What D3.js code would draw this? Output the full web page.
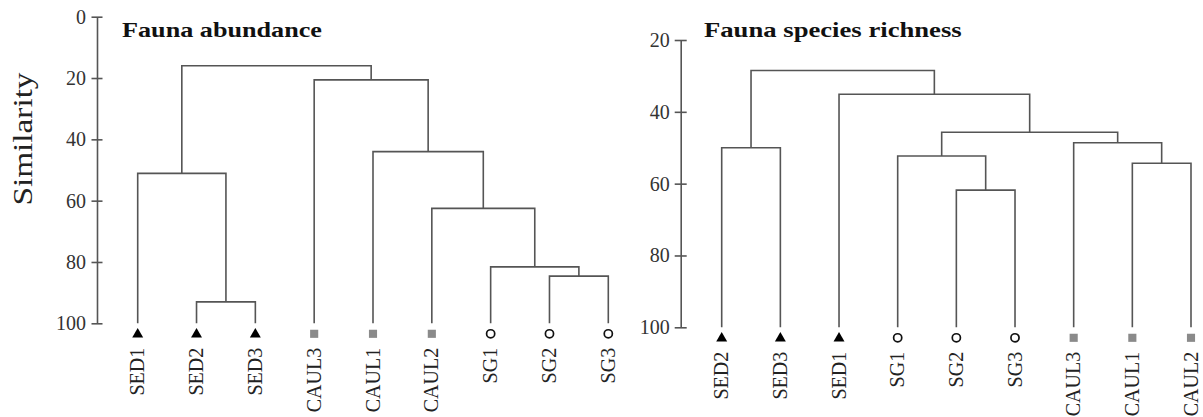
<!DOCTYPE html>
<html>
<head>
<meta charset="utf-8">
<script src="https://cdn.jsdelivr.net/npm/d3@7"></script>
<style>
  html, body { margin: 0; padding: 0; background: #fff; }
  svg { display: block; }
  text { font-family: "Liberation Serif", "Times New Roman", serif; }
</style>
</head>
<body>
<svg id="chart" width="1203" height="417"></svg>
<script>
// ---- Fauna abundance dendrogram ----
const abundanceLeaves = ["SED1", "SED2", "SED3", "CAUL3", "CAUL1", "CAUL2", "SG1", "SG2", "SG3"];
// merge steps: negative = leaf (1-based), positive = earlier merge step (1-based)
const abundancePairs = [[-2, -3], [-8, -9], [-7, 2], [-1, 1], [-6, 3], [-5, 5], [-4, 6], [4, 7]];
const abundanceSimilarity = [93.0, 84.6, 81.6, 51.1, 62.5, 44.0, 20.6, 16.0];
const abundanceTicks = [0, 20, 40, 60, 80, 100];

// ---- Fauna species richness dendrogram ----
const richnessLeaves = ["SED2", "SED3", "SED1", "SG1", "SG2", "SG3", "CAUL3", "CAUL1", "CAUL2"];
const richnessPairs = [[-1, -2], [-5, -6], [-8, -9], [-4, 2], [-7, 3], [4, 5], [-3, 6], [1, 7]];
const richnessSimilarity = [50.0, 61.8, 54.3, 52.3, 48.6, 45.7, 35.1, 28.5];
const richnessTicks = [20, 40, 60, 80, 100];

const svg = d3.select("#chart");
const lineColor = "#555";

function drawDendrogram(cfg) {
  const g = svg.append("g");
  const x = d3.scalePoint().domain(cfg.leaves).range(cfg.xRange);
  const y = d3.scaleLinear().domain(cfg.yDomain).range(cfg.yRange);

  // axis with ticks crossing the line
  const axis = d3.axisLeft(y).tickValues(cfg.ticks).tickSizeInner(cfg.tick).tickSizeOuter(0).tickPadding(cfg.pad);
  const ag = g.append("g").attr("transform", `translate(${cfg.axisX},0)`).call(axis);
  ag.select(".domain").attr("stroke", lineColor).attr("stroke-width", 1.6);
  ag.selectAll(".tick line").attr("stroke", lineColor).attr("stroke-width", 1.6).attr("x2", cfg.tick).attr("x1", -cfg.tick);
  ag.selectAll(".tick text").attr("fill", "#333").attr("font-size", 20).attr("font-family", "Liberation Serif");

  // node positions: leaves at similarity 100, merges at their similarity
  const nodeX = i => i < 0 ? x(cfg.leaves[-i - 1]) : mergeX[i - 1];
  const nodeSim = i => i < 0 ? 100 : cfg.sims[i - 1];
  const mergeX = [];
  cfg.pairs.forEach((p, k) => {
    const xa = nodeX(p[0]), xb = nodeX(p[1]);
    mergeX.push((xa + xb) / 2);
    const s = cfg.sims[k];
    const path = d3.path();
    path.moveTo(xa, y(nodeSim(p[0])));
    path.lineTo(xa, y(s));
    path.lineTo(xb, y(s));
    path.lineTo(xb, y(nodeSim(p[1])));
    g.append("path").attr("d", path.toString())
      .attr("fill", "none").attr("stroke", lineColor).attr("stroke-width", 1.6);
  });

  // group markers under the leaves
  const y100 = y(100);
  cfg.leaves.forEach(name => {
    const cx = x(name);
    if (name.startsWith("SED")) {
      g.append("path").attr("d", d3.symbol(d3.symbolTriangle, 52)())
        .attr("transform", `translate(${cx},${y100 + 11})`).attr("fill", "#000");
    } else if (name.startsWith("CAUL")) {
      g.append("path").attr("d", d3.symbol(d3.symbolSquare, 66)())
        .attr("transform", `translate(${cx},${y100 + 10.5})`).attr("fill", "#8a8a8a");
    } else {
      g.append("path").attr("d", d3.symbol(d3.symbolCircle, 52)())
        .attr("transform", `translate(${cx},${y100 + 10.5})`)
        .attr("fill", "#fff").attr("stroke", "#111").attr("stroke-width", 1.7);
    }
    g.append("text").text(name)
      .attr("transform", `translate(${cx + 6.6},${y100 + 24.5}) rotate(-90)`)
      .attr("text-anchor", "end").attr("font-size", 20).attr("fill", "#222");
  });

  // panel title
  g.append("text").text(cfg.title)
    .attr("x", cfg.titleX).attr("y", 37.3)
    .attr("font-size", 21).attr("font-weight", "bold").attr("fill", "#111")
    .attr("textLength", cfg.titleLen).attr("lengthAdjust", "spacingAndGlyphs");
}

drawDendrogram({
  leaves: abundanceLeaves, pairs: abundancePairs, sims: abundanceSimilarity, ticks: abundanceTicks,
  xRange: [137.7, 608.3], yDomain: [0, 100], yRange: [16.7, 323.3],
  axisX: 97, tick: 5.5, pad: 5.5,
  title: "Fauna abundance", titleX: 122, titleLen: 200
});

drawDendrogram({
  leaves: richnessLeaves, pairs: richnessPairs, sims: richnessSimilarity, ticks: richnessTicks,
  xRange: [721.7, 1191], yDomain: [20, 100], yRange: [40, 327.3],
  axisX: 680.7, tick: 6, pad: 5,
  title: "Fauna species richness", titleX: 704, titleLen: 257.7
});

// shared y-axis title
svg.append("text").text("Similarity")
  .attr("transform", "translate(31.7,139) rotate(-90)")
  .attr("text-anchor", "middle").attr("font-size", 27).attr("fill", "#222")
  .attr("textLength", 133).attr("lengthAdjust", "spacingAndGlyphs");
</script>
</body>
</html>
